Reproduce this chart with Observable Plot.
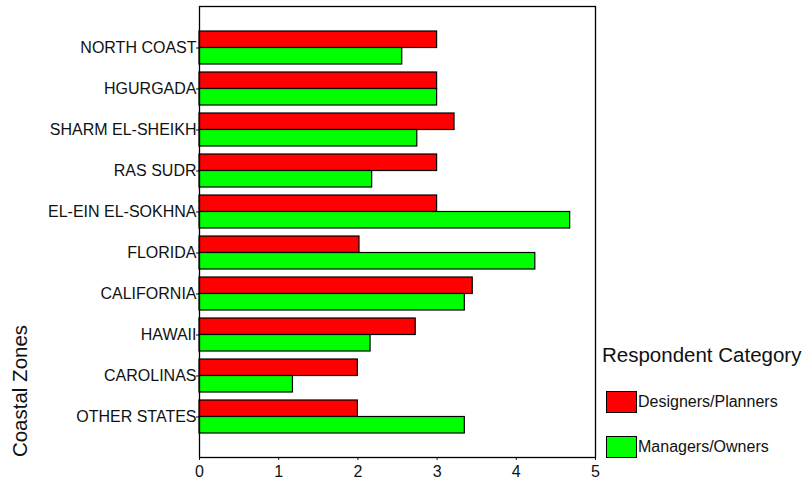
<!DOCTYPE html>
<html>
<head>
<meta charset="utf-8">
<script src="https://cdn.jsdelivr.net/npm/d3@7"></script>
<script src="https://cdn.jsdelivr.net/npm/@observablehq/plot@0.6"></script>
<style>
  body { margin: 0; background: #fff; font-family: "Liberation Sans", Arial, sans-serif; }
  #wrap { position: relative; width: 807px; height: 487px; }
  #legend { position: absolute; left: 602px; top: 343px; color: #111; }
  #legend .title { font-size: 20.5px; white-space: nowrap; line-height: 24px; }
  #legend .item { position: absolute; left: 4px; display: flex; align-items: center; font-size: 16px; white-space: nowrap; }
  #legend .sw { width: 31px; height: 22px; border: 1.3px solid #000; box-sizing: border-box; margin-right: 1px; }
  #ytitle { position: absolute; left: 20px; top: 391px; transform: translate(-50%, -50%) rotate(-90deg);
            font-size: 20.5px; white-space: nowrap; color: #111; }
</style>
</head>
<body>
<div id="wrap"></div>
<script>
const zones = ["NORTH COAST", "HGURGADA", "SHARM EL-SHEIKH", "RAS SUDR", "EL-EIN EL-SOKHNA",
  "FLORIDA", "CALIFORNIA", "HAWAII", "CAROLINAS", "OTHER STATES"];
const designers = [3.0, 3.0, 3.22, 3.0, 3.0, 2.02, 3.45, 2.73, 2.0, 2.0];
const managers  = [2.56, 3.0, 2.75, 2.18, 4.68, 4.24, 3.35, 2.16, 1.18, 3.35];
const categories = ["Designers/Planners", "Managers/Owners"];
const colors = ["#ff0000", "#00ff00"];
const xTicks = [0, 1, 2, 3, 4, 5];
const yTitle = "Coastal Zones";
const legendTitle = "Respondent Category";

const dData = zones.map((z, i) => ({zone: z, value: designers[i]}));
const mData = zones.map((z, i) => ({zone: z, value: managers[i]}));

const half = 16.5;
const chart = Plot.plot({
  width: 807,
  height: 487,
  marginLeft: 199,
  marginRight: 212,
  marginTop: 6,
  marginBottom: 30,
  style: {fontFamily: "Liberation Sans, Arial, sans-serif", fontSize: "16px", color: "#111", background: "#fff"},
  x: {domain: [0, 5], label: null},
  y: {domain: zones, paddingInner: 0.2, paddingOuter: 0.54, label: null},
  marks: [
    Plot.barX(dData, {x: "value", y: "zone", fill: colors[0], stroke: "#000", strokeWidth: 1.2, insetBottom: half}),
    Plot.barX(mData, {x: "value", y: "zone", fill: colors[1], stroke: "#000", strokeWidth: 1.2, insetTop: half}),
    Plot.frame({stroke: "#000", strokeWidth: 1.3}),
    Plot.axisX({ticks: xTicks, tickFormat: "d", tickSize: 3, tickPadding: 5, label: null, fontSize: 16}),
    Plot.axisY({tickSize: 3, tickPadding: 0, fontSize: 16, label: null})
  ]
});
const wrap = document.getElementById("wrap");
wrap.appendChild(chart);

const yt = document.createElement("div");
yt.id = "ytitle";
yt.textContent = yTitle;
wrap.appendChild(yt);

const legend = document.createElement("div");
legend.id = "legend";
legend.innerHTML = `<div class="title">${legendTitle}</div>` +
  categories.map((c, i) => `<div class="item" style="top:${48 + i * 45}px"><div class="sw" style="background:${colors[i]}"></div>${c}</div>`).join("");
wrap.appendChild(legend);
</script>
</body>
</html>
